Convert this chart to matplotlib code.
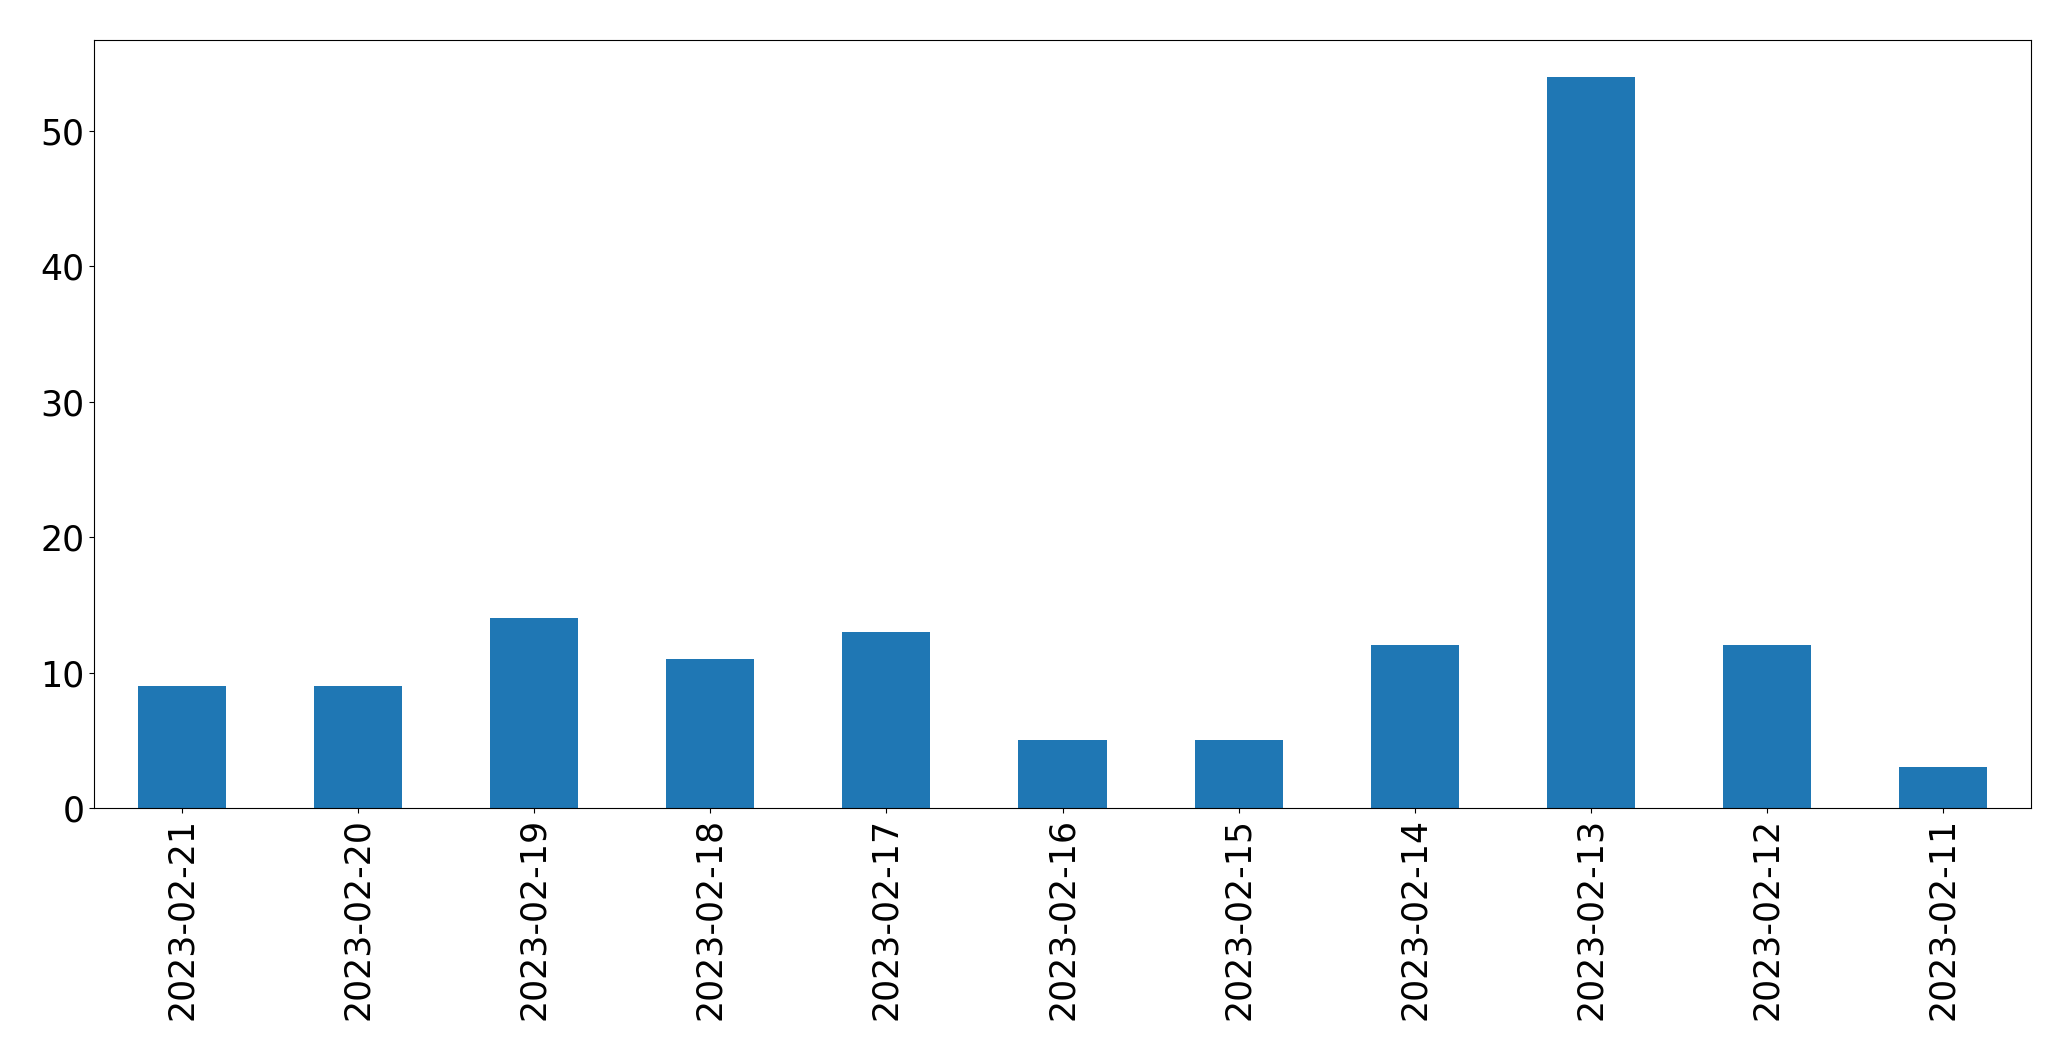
import matplotlib
matplotlib.use("Agg")
import matplotlib.pyplot as plt

dates = ["2023-02-21", "2023-02-20", "2023-02-19", "2023-02-18", "2023-02-17",
         "2023-02-16", "2023-02-15", "2023-02-14", "2023-02-13", "2023-02-12",
         "2023-02-11"]
counts = [9, 9, 14, 11, 13, 5, 5, 12, 54, 12, 3]

fig = plt.figure(figsize=(20.71, 10.61), dpi=100)
ax = fig.add_axes([94/2071, 1 - 808/1061, (2031-94)/2071, (808-40)/1061])
x = range(len(dates))
ax.bar(x, counts, width=0.5, color="#1f77b4")
ax.set_xlim(-0.5, len(dates) - 0.5)
ax.set_ylim(0, max(counts) * 1.05)
ax.set_xticks(list(x))
ax.set_xticklabels(dates, rotation=90, fontsize=25)
ax.tick_params(axis="y", labelsize=25)
fig.savefig("out.png", dpi=100)
